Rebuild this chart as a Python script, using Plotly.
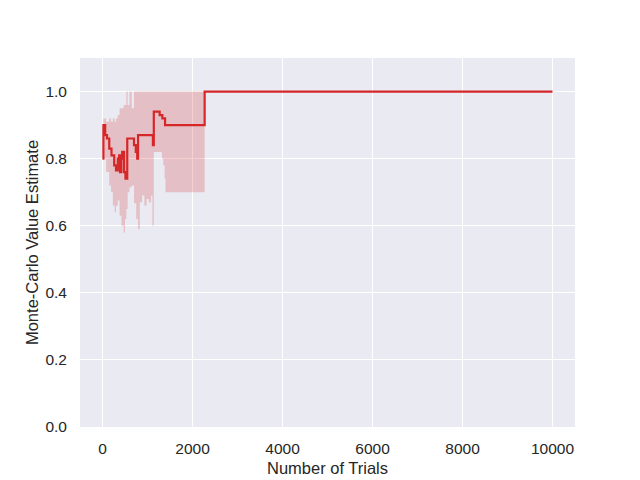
import plotly.graph_objects as go

# mean estimate (step line)
trials = [0, 20, 60, 100, 150, 200, 260, 300, 340, 370, 390, 420, 437, 480, 510,
          550, 700, 740, 771, 790, 1120, 1140, 1270, 1330, 1390, 2270, 10000]
estimate = [0.80, 0.90, 0.87, 0.86, 0.83, 0.81, 0.78, 0.765, 0.80, 0.81, 0.76, 0.80, 0.82, 0.76, 0.74,
            0.86, 0.84, 0.82, 0.80, 0.87, 0.84, 0.94, 0.93, 0.92, 0.90, 1.0, 1.0]

# confidence band
band_x = [0, 20, 80, 150, 190, 230, 270, 300, 340, 380, 420, 470, 500, 530, 560,
          600, 650, 700, 750, 790, 830, 880, 930, 980, 1030, 1080, 1110, 1140,
          1290, 1320, 1350, 1380, 1400, 2270, 10000]
band_hi = [0.80, 0.92, 0.91, 0.92, 0.91, 0.92, 0.91, 0.92, 0.93, 0.95, 0.95, 0.96, 0.96, 1.0, 0.96,
           1.0, 0.95, 1.0, 1.0, 1.0, 1.0, 1.0, 1.0, 1.0, 1.0, 1.0, 1.0, 1.0,
           1.0, 1.0, 1.0, 1.0, 1.0, 1.0, 1.0]
band_lo = [0.80, 0.80, 0.76, 0.72, 0.70, 0.66, 0.64, 0.66, 0.675, 0.63, 0.60, 0.58, 0.62, 0.65, 0.70,
           0.715, 0.72, 0.667, 0.62, 0.59, 0.67, 0.69, 0.66, 0.68, 0.67, 0.69, 0.60, 0.82,
           0.82, 0.80, 0.78, 0.74, 0.70, 1.0, 1.0]


def steps(xs, ys):
    # expand to post-step vertices
    sx, sy = [xs[0]], [ys[0]]
    for i in range(1, len(xs)):
        sx += [xs[i], xs[i]]
        sy += [ys[i - 1], ys[i]]
    return sx, sy


lo_x, lo_y = steps(band_x, band_lo)
hi_x, hi_y = steps(band_x, band_hi)
poly_x = lo_x + hi_x[::-1]
poly_y = lo_y + hi_y[::-1]

red = "#d62728"

fig = go.Figure()
fig.add_trace(go.Scatter(x=poly_x, y=poly_y, mode="lines", line=dict(width=0),
                         fill="toself", fillcolor="rgba(214,39,40,0.22)",
                         showlegend=False, hoverinfo="skip"))
fig.add_trace(go.Scatter(x=trials, y=estimate, mode="lines",
                         line=dict(color=red, width=2.2, shape="hv"), showlegend=False))

# page body has an 8px margin, so margins are offset to land the plot area where the reference has it
fig.update_layout(
    width=640, height=480,
    margin=dict(l=72, r=73, t=50, b=61),
    paper_bgcolor="white", plot_bgcolor="#eaeaf2",
    font=dict(family="Liberation Sans, Arial, sans-serif", color="#262626", size=15.5),
)
fig.update_xaxes(range=[-500, 10500], tickvals=[0, 2000, 4000, 6000, 8000, 10000],
                 ticktext=["0", "2000", "4000", "6000", "8000", "10000"],
                 showgrid=True, gridcolor="white", gridwidth=1.3, zeroline=False,
                 ticks="", showline=False, automargin=False, ticklabelstandoff=10,
                 title=dict(text="Number of Trials", font=dict(size=16.5), standoff=6))
fig.update_yaxes(range=[0, 1.1], tickvals=[0, 0.2, 0.4, 0.6, 0.8, 1.0], tickformat=".1f",
                 showgrid=True, gridcolor="white", gridwidth=1.3, zeroline=False,
                 ticks="", showline=False, automargin=False, ticklabelstandoff=12,
                 title=dict(text="Monte-Carlo Value Estimate", font=dict(size=16.5), standoff=2))

fig.write_html("out.html")
